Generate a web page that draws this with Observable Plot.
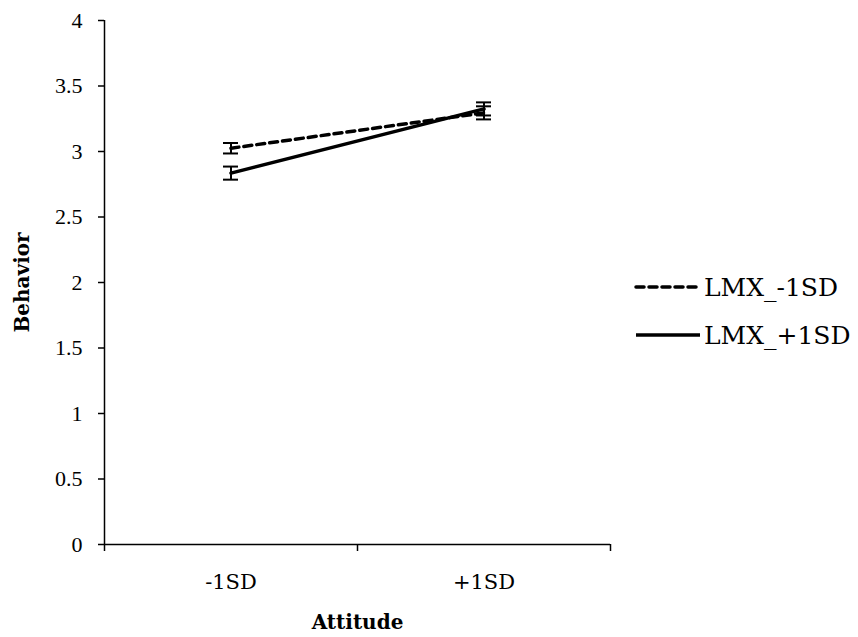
<!DOCTYPE html>
<html>
<head>
<meta charset="utf-8">
<script src="https://cdn.jsdelivr.net/npm/d3@7"></script>
<script src="https://cdn.jsdelivr.net/npm/@observablehq/plot@0.6"></script>
<style>
  html, body { margin: 0; padding: 0; background: #fff; }
  #wrap { position: relative; width: 858px; height: 637px; }
  #legend { position: absolute; left: 0; top: 0; }
  svg { font-family: "DejaVu Serif", serif; }
  g[aria-label="y-axis tick label"] { font-family: "Liberation Serif", serif !important; }
</style>
</head>
<body>
<div id="wrap"></div>
<script>
// ---- data ----
const categories = ["-1SD", "+1SD"];
const seriesNames = ["LMX_-1SD", "LMX_+1SD"];
const lmxLowValues = [3.025, 3.295];
const lmxLowErrors = [0.04, 0.05];
const lmxHighValues = [2.835, 3.325];
const lmxHighErrors = [0.05, 0.05];
const yTicks = [0, 0.5, 1, 1.5, 2, 2.5, 3, 3.5, 4];

// ---- table ----
const rows = [];
categories.forEach((c, i) => {
  rows.push({series: seriesNames[0], pos: i + 0.5, value: lmxLowValues[i], err: lmxLowErrors[i]});
  rows.push({series: seriesNames[1], pos: i + 0.5, value: lmxHighValues[i], err: lmxHighErrors[i]});
});
const low = rows.filter(d => d.series === seriesNames[0]);
const high = rows.filter(d => d.series === seriesNames[1]);
const boundaries = d3.range(categories.length + 1);
const centers = categories.map((c, i) => i + 0.5);

const chart = Plot.plot({
  width: 858,
  height: 637,
  marginLeft: 104,
  marginRight: 248,
  marginTop: 20,
  marginBottom: 93,
  style: {fontFamily: "DejaVu Serif, serif", background: "#fff", color: "#000"},
  x: {domain: [0, categories.length]},
  y: {domain: [0, 4]},
  marks: [
    // y axis
    Plot.axisY({ticks: yTicks, tickSize: 6, tickPadding: 16, tickFormat: d => String(d), fontSize: 22, label: null, strokeWidth: 1.5}),
    Plot.ruleX([0], {y1: 0, y2: 4, stroke: "#000", strokeWidth: 1.5}),
    // x axis
    Plot.ruleY([0], {x1: 0, x2: categories.length, stroke: "#000", strokeWidth: 1.5}),
    Plot.axisX({ticks: boundaries, tickSize: 7, tickFormat: () => "", label: null, strokeWidth: 1.5}),
    Plot.axisX({ticks: centers, tickSize: 0, tickPadding: 30, tickFormat: (d) => categories[Math.floor(d)], fontSize: 21, label: null}),
    // axis titles
    Plot.text(["Behavior"], {frameAnchor: "left", dx: -82, rotate: -90, textAnchor: "middle", lineAnchor: "middle", fontSize: 20, fontWeight: "bold"}),
    Plot.text(["Attitude"], {frameAnchor: "bottom", dy: 78, textAnchor: "middle", lineAnchor: "middle", fontSize: 20, fontWeight: "bold"}),
    // error bars
    Plot.ruleX(rows, {x: "pos", y1: d => d.value - d.err, y2: d => d.value + d.err, stroke: "#000", strokeWidth: 2}),
    Plot.ruleY(rows, {y: d => d.value - d.err, x1: "pos", x2: "pos", insetLeft: -7.5, insetRight: -7.5, stroke: "#000", strokeWidth: 2}),
    Plot.ruleY(rows, {y: d => d.value + d.err, x1: "pos", x2: "pos", insetLeft: -7.5, insetRight: -7.5, stroke: "#000", strokeWidth: 2}),
    // lines
    Plot.line(low, {x: "pos", y: "value", stroke: "#000", strokeWidth: 3.5, strokeDasharray: "8,5", strokeLinecap: "round"}),
    Plot.line(high, {x: "pos", y: "value", stroke: "#000", strokeWidth: 3.5})
  ]
});

const wrap = document.getElementById("wrap");
wrap.appendChild(chart);

// legend (overlay, right side)
const ns = "http://www.w3.org/2000/svg";
const leg = document.createElementNS(ns, "svg");
leg.setAttribute("id", "legend");
leg.setAttribute("width", 858);
leg.setAttribute("height", 637);
leg.style.pointerEvents = "none";
const legendItems = [
  {name: seriesNames[0], dash: "8,5", y: 287},
  {name: seriesNames[1], dash: null, y: 335}
];
legendItems.forEach(it => {
  const l = document.createElementNS(ns, "line");
  l.setAttribute("x1", 636); l.setAttribute("x2", 700);
  l.setAttribute("y1", it.y); l.setAttribute("y2", it.y);
  l.setAttribute("stroke", "#000"); l.setAttribute("stroke-width", 3.5);
  if (it.dash) { l.setAttribute("stroke-dasharray", it.dash); l.setAttribute("stroke-linecap", "round"); }
  leg.appendChild(l);
  const t = document.createElementNS(ns, "text");
  t.setAttribute("x", 704); t.setAttribute("y", it.y);
  t.setAttribute("dy", "0.35em");
  t.setAttribute("font-size", 25);
  t.setAttribute("font-family", "DejaVu Serif, serif");
  t.textContent = it.name;
  leg.appendChild(t);
});
wrap.appendChild(leg);
</script>
</body>
</html>
